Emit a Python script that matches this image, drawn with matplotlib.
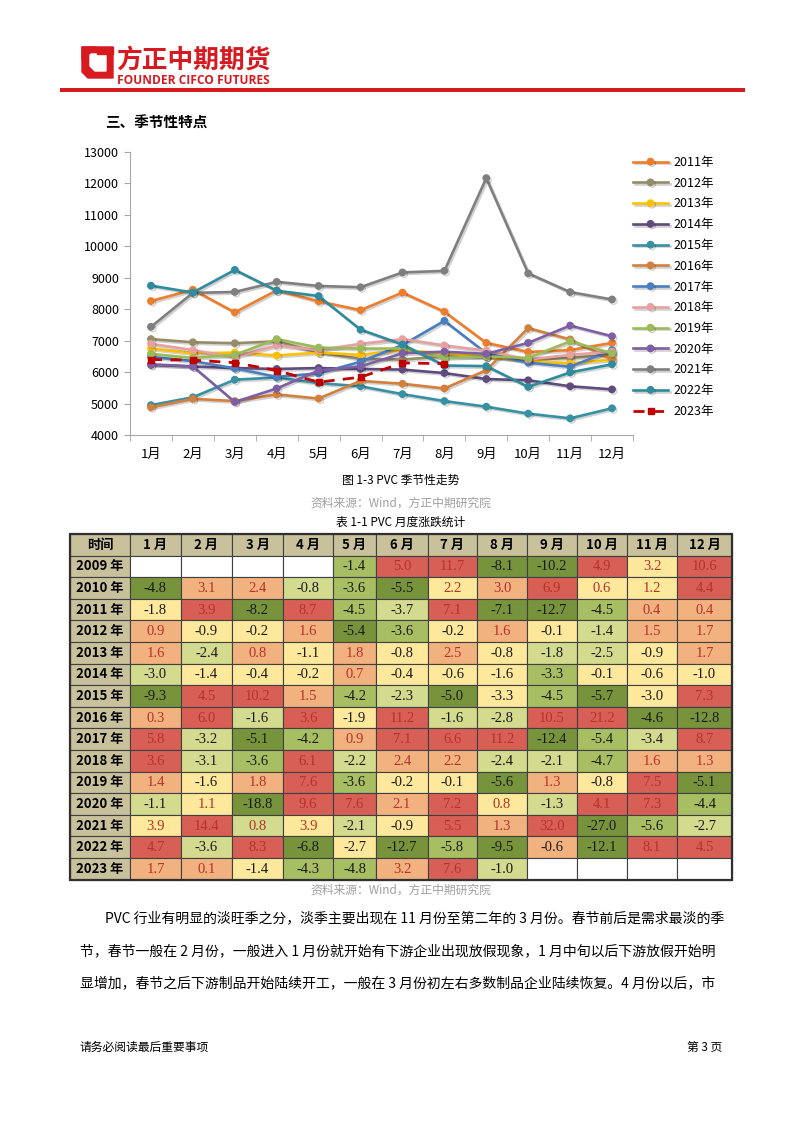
import numpy as np
import matplotlib
matplotlib.use('Agg')
import matplotlib.pyplot as plt
from matplotlib.patches import Rectangle, Polygon
import matplotlib.patheffects as pe

plt.rcParams['font.family'] = ['Noto Sans CJK SC', 'DejaVu Sans']

# ─── chart data ───────────────────────────────────────────────
months = ['1月', '2月', '3月', '4月', '5月', '6月', '7月', '8月', '9月', '10月', '11月', '12月']

y2011 = [8260, 8620, 7900, 8600, 8250, 7970, 8530, 7920, 6930, 6640, 6700, 6930]
y2012 = [7050, 6950, 6920, 6980, 6620, 6420, 6400, 6500, 6480, 6400, 6450, 6550]
y2013 = [6750, 6600, 6620, 6530, 6620, 6550, 6700, 6600, 6500, 6350, 6280, 6400]
y2014 = [6230, 6180, 6130, 6100, 6130, 6100, 6080, 5970, 5780, 5740, 5550, 5450]
y2015 = [4950, 5200, 5760, 5830, 5650, 5550, 5300, 5080, 4900, 4680, 4530, 4850]
y2016 = [4880, 5150, 5080, 5290, 5160, 5720, 5630, 5480, 6060, 7400, 7040, 6400]
y2017 = [6480, 6350, 6120, 5850, 5960, 6330, 6860, 7630, 6600, 6300, 6170, 6700]
y2018 = [6900, 6700, 6480, 6850, 6700, 6900, 7050, 6850, 6680, 6400, 6550, 6650]
y2019 = [6580, 6450, 6550, 7050, 6780, 6750, 6750, 6450, 6500, 6450, 6980, 6600]
y2020 = [6250, 6180, 5050, 5480, 6050, 6180, 6600, 6650, 6580, 6930, 7480, 7140]
y2021 = [7440, 8520, 8550, 8870, 8740, 8700, 9170, 9220, 12170, 9140, 8545, 8310]
y2022 = [8750, 8530, 9250, 8590, 8420, 7350, 6880, 6210, 6190, 5530, 5990, 6250]
y2023 = [6400, 6380, 6300, 6050, 5680, 5840, 6290, 6270]

series = [
    ('2011年', y2011, '#EE7D2C'),
    ('2012年', y2012, '#968D68'),
    ('2013年', y2013, '#FFC000'),
    ('2014年', y2014, '#5F4B7E'),
    ('2015年', y2015, '#3591A3'),
    ('2016年', y2016, '#D47F3C'),
    ('2017年', y2017, '#4A7EBF'),
    ('2018年', y2018, '#E8A0A0'),
    ('2019年', y2019, '#9BBB59'),
    ('2020年', y2020, '#7E5FA6'),
    ('2021年', y2021, '#7F7F7F'),
    ('2022年', y2022, '#2F8C9E'),
]

# ─── table data ───────────────────────────────────────────────
tbl_years = ['2009 年', '2010 年', '2011 年', '2012 年', '2013 年', '2014 年', '2015 年', '2016 年',
             '2017 年', '2018 年', '2019 年', '2020 年', '2021 年', '2022 年', '2023 年']
tbl_cols = ['时间', '1 月', '2 月', '3 月', '4 月', '5 月', '6 月', '7 月', '8 月', '9 月', '10 月', '11 月', '12 月']
N = None
tbl_vals = [
    [N, N, N, N, -1.4, 5.0, 11.7, -8.1, -10.2, 4.9, 3.2, 10.6],
    [-4.8, 3.1, 2.4, -0.8, -3.6, -5.5, 2.2, 3.0, 6.9, 0.6, 1.2, 4.4],
    [-1.8, 3.9, -8.2, 8.7, -4.5, -3.7, 7.1, -7.1, -12.7, -4.5, 0.4, 0.4],
    [0.9, -0.9, -0.2, 1.6, -5.4, -3.6, -0.2, 1.6, -0.1, -1.4, 1.5, 1.7],
    [1.6, -2.4, 0.8, -1.1, 1.8, -0.8, 2.5, -0.8, -1.8, -2.5, -0.9, 1.7],
    [-3.0, -1.4, -0.4, -0.2, 0.7, -0.4, -0.6, -1.6, -3.3, -0.1, -0.6, -1.0],
    [-9.3, 4.5, 10.2, 1.5, -4.2, -2.3, -5.0, -3.3, -4.5, -5.7, -3.0, 7.3],
    [0.3, 6.0, -1.6, 3.6, -1.9, 11.2, -1.6, -2.8, 10.5, 21.2, -4.6, -12.8],
    [5.8, -3.2, -5.1, -4.2, 0.9, 7.1, 6.6, 11.2, -12.4, -5.4, -3.4, 8.7],
    [3.6, -3.1, -3.6, 6.1, -2.2, 2.4, 2.2, -2.4, -2.1, -4.7, 1.6, 1.3],
    [1.4, -1.6, 1.8, 7.6, -3.6, -0.2, -0.1, -5.6, 1.3, -0.8, 7.5, -5.1],
    [-1.1, 1.1, -18.8, 9.6, 7.6, 2.1, 7.2, 0.8, -1.3, 4.1, 7.3, -4.4],
    [3.9, 14.4, 0.8, 3.9, -2.1, -0.9, 5.5, 1.3, 32.0, -27.0, -5.6, -2.7],
    [4.7, -3.6, 8.3, -6.8, -2.7, -12.7, -5.8, -9.5, -0.6, -12.1, 8.1, 4.5],
    [1.7, 0.1, -1.4, -4.3, -4.8, 3.2, 7.6, -1.0, N, N, N, N],
]
# colour band of every cell as shown (0 dark green ... 5 red)
tbl_band = [
    [N, N, N, N, 1, 5, 5, 0, 0, 5, 3, 5],
    [0, 4, 4, 2, 1, 0, 3, 4, 5, 3, 3, 5],
    [3, 5, 0, 5, 1, 2, 5, 0, 0, 1, 4, 4],
    [4, 3, 3, 4, 0, 1, 3, 4, 3, 2, 4, 4],
    [4, 2, 4, 3, 4, 3, 4, 3, 2, 2, 3, 4],
    [2, 3, 3, 3, 4, 3, 3, 3, 1, 3, 3, 3],
    [0, 5, 5, 4, 1, 2, 0, 3, 1, 0, 3, 5],
    [4, 5, 2, 5, 3, 5, 2, 2, 5, 5, 0, 0],
    [5, 2, 0, 1, 4, 5, 5, 5, 0, 1, 2, 5],
    [5, 2, 1, 5, 2, 4, 4, 2, 2, 1, 4, 4],
    [4, 3, 4, 5, 1, 3, 3, 0, 4, 3, 5, 0],
    [2, 3, 0, 5, 5, 4, 5, 3, 2, 5, 5, 1],
    [3, 5, 2, 3, 2, 3, 5, 4, 5, 0, 1, 2],
    [5, 2, 5, 0, 3, 0, 1, 0, 4, 0, 5, 5],
    [4, 4, 3, 1, 1, 4, 5, 2, N, N, N, N],
]
band_colors = ['#77933C', '#A7BE62', '#D3DB8E', '#FEE89B', '#F2B27F', '#D75F55']

W, H = 802, 1133
fig = plt.figure(figsize=(W / 100, H / 100), dpi=100)
page = fig.add_axes([0, 0, 1, 1])
page.set_xlim(0, W)
page.set_ylim(H, 0)
page.axis('off')

RED = '#D71920'

# ─── header / logo ────────────────────────────────────────────
page.add_patch(Polygon([(82, 47), (113, 47), (113, 78), (88, 78), (82, 72)], closed=True, color=RED))
page.add_patch(Polygon([(90, 54), (106, 54), (106, 71), (95, 71), (90, 66)], closed=True, color='white'))
page.add_patch(Polygon([(82, 47), (97, 47), (82, 60)], closed=True, color=RED))
page.add_patch(Rectangle((97, 47), 16, 7, color=RED))
page.text(116, 60, '方正中期期货', color=RED, fontsize=18.5, fontweight='bold', va='center', ha='left')
page.text(117, 80, 'FOUNDER CIFCO FUTURES', color=RED, fontsize=8.6, fontweight='bold', va='center', ha='left',
          family=['Open Sans', 'DejaVu Sans'])
page.add_patch(Rectangle((60, 88), 685, 4, color=RED, lw=0))

page.text(105, 123, '三、季节性特点', fontsize=10.5, fontweight='bold', va='center', ha='left')

# ─── seasonal line chart ─────────────────────────────────────
ax = fig.add_axes([130 / W, 1 - 435 / H, 503 / W, (435 - 152) / H])
x = np.arange(12)
shadow = [pe.SimpleLineShadow(offset=(1.2, -1.2), alpha=0.18), pe.Normal()]
for name, vals, col in series:
    ax.plot(x[:len(vals)], vals, color=col, lw=1.9, marker='o', ms=4.6, label=name,
            path_effects=shadow)
ax.plot(x[:len(y2023)], y2023, color='#C00000', lw=2.0, ls=(0, (4, 3)), marker='s', ms=4,
        label='2023年')

ax.set_xlim(-0.5, 11.5)
ax.set_ylim(4000, 13000)
ax.set_yticks(range(4000, 13001, 1000))
ax.set_xticks(x)
ax.set_xticklabels(months)
ax.set_xticks(np.arange(-0.5, 12, 1), minor=True)
ax.tick_params(axis='x', which='major', length=0, pad=9, labelsize=9.5)
ax.tick_params(axis='x', which='minor', length=4, color='#A6A6A6', direction='out')
ax.tick_params(axis='y', length=4, color='#A6A6A6', direction='out', labelsize=9, pad=4)
for s in ['top', 'right']:
    ax.spines[s].set_visible(False)
for s in ['left', 'bottom']:
    ax.spines[s].set_color('#A6A6A6')
ax.patch.set_alpha(0)

ax.legend(loc='upper left', bbox_to_anchor=(628 / W, 1 - 151 / H), bbox_transform=fig.transFigure,
          frameon=False, fontsize=9, handlelength=2.8, labelspacing=0.62, handletextpad=0.4,
          borderaxespad=0)

# ─── captions ────────────────────────────────────────────────
page.text(401, 480, '图 1-3 PVC 季节性走势', fontsize=8.5, ha='center', va='center')
page.text(401, 503, '资料来源：Wind，方正中期研究院', fontsize=8.5, ha='center', va='center', color='#A0A0A0')
page.text(401, 522, '表 1-1 PVC 月度涨跌统计', fontsize=8.5, ha='center', va='center')

# ─── monthly change table ────────────────────────────────────
col_edges = [70, 130, 181, 232, 283, 333, 376, 428, 477, 527, 577, 627, 677, 732]
top = 534
row_h = 21.6
head_bg = '#C9C19B'
n_rows = len(tbl_years) + 1
for j, lab in enumerate(tbl_cols):
    x0, x1 = col_edges[j], col_edges[j + 1]
    page.add_patch(Rectangle((x0, top), x1 - x0, row_h, facecolor=head_bg, edgecolor='#404040', lw=0.8))
    page.text((x0 + x1) / 2, top + row_h / 2, lab, fontsize=9.5, fontweight='bold', ha='center', va='center')
for i, yr in enumerate(tbl_years):
    y0 = top + (i + 1) * row_h
    page.add_patch(Rectangle((col_edges[0], y0), col_edges[1] - col_edges[0], row_h,
                             facecolor=head_bg, edgecolor='#404040', lw=0.8))
    page.text((col_edges[0] + col_edges[1]) / 2, y0 + row_h / 2, yr, fontsize=9.5, fontweight='bold',
              ha='center', va='center')
    for j in range(12):
        x0, x1 = col_edges[j + 1], col_edges[j + 2]
        v = tbl_vals[i][j]
        b = tbl_band[i][j]
        fc = 'white' if b is None else band_colors[b]
        page.add_patch(Rectangle((x0, y0), x1 - x0, row_h, facecolor=fc, edgecolor='#404040', lw=0.8))
        if v is not None:
            tc = '#B8312B' if v > 0 else '#1A1A1A'
            page.text((x0 + x1) / 2, y0 + row_h / 2 + 0.5, f'{v:.1f}', fontsize=10.5, ha='center', va='center',
                      color=tc, family=['Liberation Serif', 'DejaVu Serif'])
page.add_patch(Rectangle((col_edges[0], top), col_edges[-1] - col_edges[0], n_rows * row_h,
                         fill=False, edgecolor='#303030', lw=1.6))

page.text(401, 890, '资料来源：Wind，方正中期研究院', fontsize=8.5, ha='center', va='center', color='#A0A0A0')

# ─── body text ───────────────────────────────────────────────
para = [
    (105, 918, 'PVC 行业有明显的淡旺季之分，淡季主要出现在 11 月份至第二年的 3 月份。春节前后是需求最淡的季'),
    (80, 951, '节，春节一般在 2 月份，一般进入 1 月份就开始有下游企业出现放假现象，1 月中旬以后下游放假开始明'),
    (80, 983, '显增加，春节之后下游制品开始陆续开工，一般在 3 月份初左右多数制品企业陆续恢复。4 月份以后，市'),
]
for px, py, line in para:
    page.text(px, py, line, fontsize=10.0, ha='left', va='center')

page.text(80, 1047, '请务必阅读最后重要事项', fontsize=8.5, ha='left', va='center')
page.text(722, 1047, '第 3 页', fontsize=8.5, ha='right', va='center')

fig.savefig('out.png', dpi=100)
